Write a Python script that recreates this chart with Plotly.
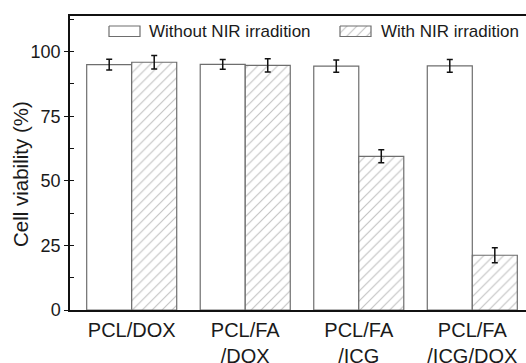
import plotly.graph_objects as go

categories = ["PCL/DOX", "PCL/FA<br>/DOX", "PCL/FA<br>/ICG", "PCL/FA<br>/ICG/DOX"]
without_nir = [95.0, 95.1, 94.4, 94.5]
without_err = [2.1, 1.9, 2.4, 2.5]
with_nir = [95.9, 94.7, 59.5, 21.2]
with_err = [2.6, 2.6, 2.5, 2.9]
y_ticks = [0, 25, 50, 75, 100]
series_names = ["Without NIR irradition", "With NIR irradition"]
y_title = "Cell viability (%)"

FONT = "Liberation Sans, Arial, sans-serif"
TXT = "#1a1a1a"
EDGE = "#6e6e6e"
HATCH = "#858585"

fig = go.Figure()
fig.add_trace(go.Bar(
    x=categories, y=without_nir, name=series_names[0],
    marker=dict(color="white", line=dict(color=EDGE, width=1.2)),
    error_y=dict(type="data", array=without_err, color="#111", thickness=1.5, width=3),
    showlegend=False,
))
fig.add_trace(go.Bar(
    x=categories, y=with_nir, name=series_names[1],
    marker=dict(color="white", line=dict(color=EDGE, width=1.2),
                pattern=dict(shape="/", fgcolor=HATCH, bgcolor="white", size=7, solidity=0.16)),
    error_y=dict(type="data", array=with_err, color="#111", thickness=1.5, width=3),
    showlegend=False,
))

# custom legend (boxes drawn on an overlay axis whose units are page pixels)
fig.add_trace(go.Scatter(
    x=[340, 371, 371, 340, 340], y=[26, 26, 36.5, 36.5, 26],
    xaxis="x2", yaxis="y2", mode="lines", fill="toself",
    line=dict(color=EDGE, width=1.2), fillcolor="white",
    fillpattern=dict(shape="/", fgcolor=HATCH, bgcolor="white", size=7, solidity=0.16),
    hoverinfo="skip", showlegend=False,
))
fig.add_trace(go.Scatter(
    x=[109, 140, 140, 109, 109], y=[26, 26, 36.5, 36.5, 26],
    xaxis="x2", yaxis="y2", mode="lines", fill="toself",
    line=dict(color=EDGE, width=1.2), fillcolor="white",
    hoverinfo="skip", showlegend=False,
))

fig.add_annotation(x=147, y=31.5, xref="x2", yref="y2", text=series_names[0],
                   showarrow=False, xanchor="left", yanchor="middle",
                   font=dict(family=FONT, size=17, color=TXT))
fig.add_annotation(x=379, y=31.5, xref="x2", yref="y2", text=series_names[1],
                   showarrow=False, xanchor="left", yanchor="middle",
                   font=dict(family=FONT, size=17, color=TXT))
# y-axis title
fig.add_annotation(x=(21 - 70) / 456, y=(310 - 174) / 294, xref="paper", yref="paper",
                   text=y_title, textangle=-90, showarrow=False,
                   xanchor="center", yanchor="middle",
                   font=dict(family=FONT, size=20.5, color=TXT))

fig.update_layout(
    width=526, height=363,
    margin=dict(l=70, r=0, t=16, b=53, autoexpand=False),
    paper_bgcolor="white", plot_bgcolor="white",
    barmode="group", bargap=0.207, bargroupgap=0,
    font=dict(family=FONT, color=TXT),
    xaxis=dict(
        type="category", range=[-0.5435, 3.473], automargin=False,
        showline=True, linecolor="#111", linewidth=1.5, mirror=True,
        ticks="", showgrid=False, zeroline=False, ticklabelstandoff=1,
        tickfont=dict(family=FONT, size=20, color=TXT),
    ),
    yaxis=dict(
        range=[0, 113.8], tickvals=y_ticks, automargin=False,
        showline=True, linecolor="#111", linewidth=1.5, mirror=False,
        ticks="outside", ticklen=4, tickwidth=1.2, tickcolor="#111",
        minor=dict(dtick=12.5, ticks="inside", ticklen=4, tickwidth=1.2, tickcolor="#111"),
        showgrid=False, zeroline=False,
        tickfont=dict(family=FONT, size=18, color=TXT),
    ),
    xaxis2=dict(domain=[0, 1], range=[70, 526], overlaying="x", visible=False, fixedrange=True),
    yaxis2=dict(range=[310, 16], overlaying="y", visible=False, fixedrange=True),
)

fig.write_html("out.html", config={"displayModeBar": False},
               post_script="document.body.style.margin='0';document.body.style.overflow='hidden';")
